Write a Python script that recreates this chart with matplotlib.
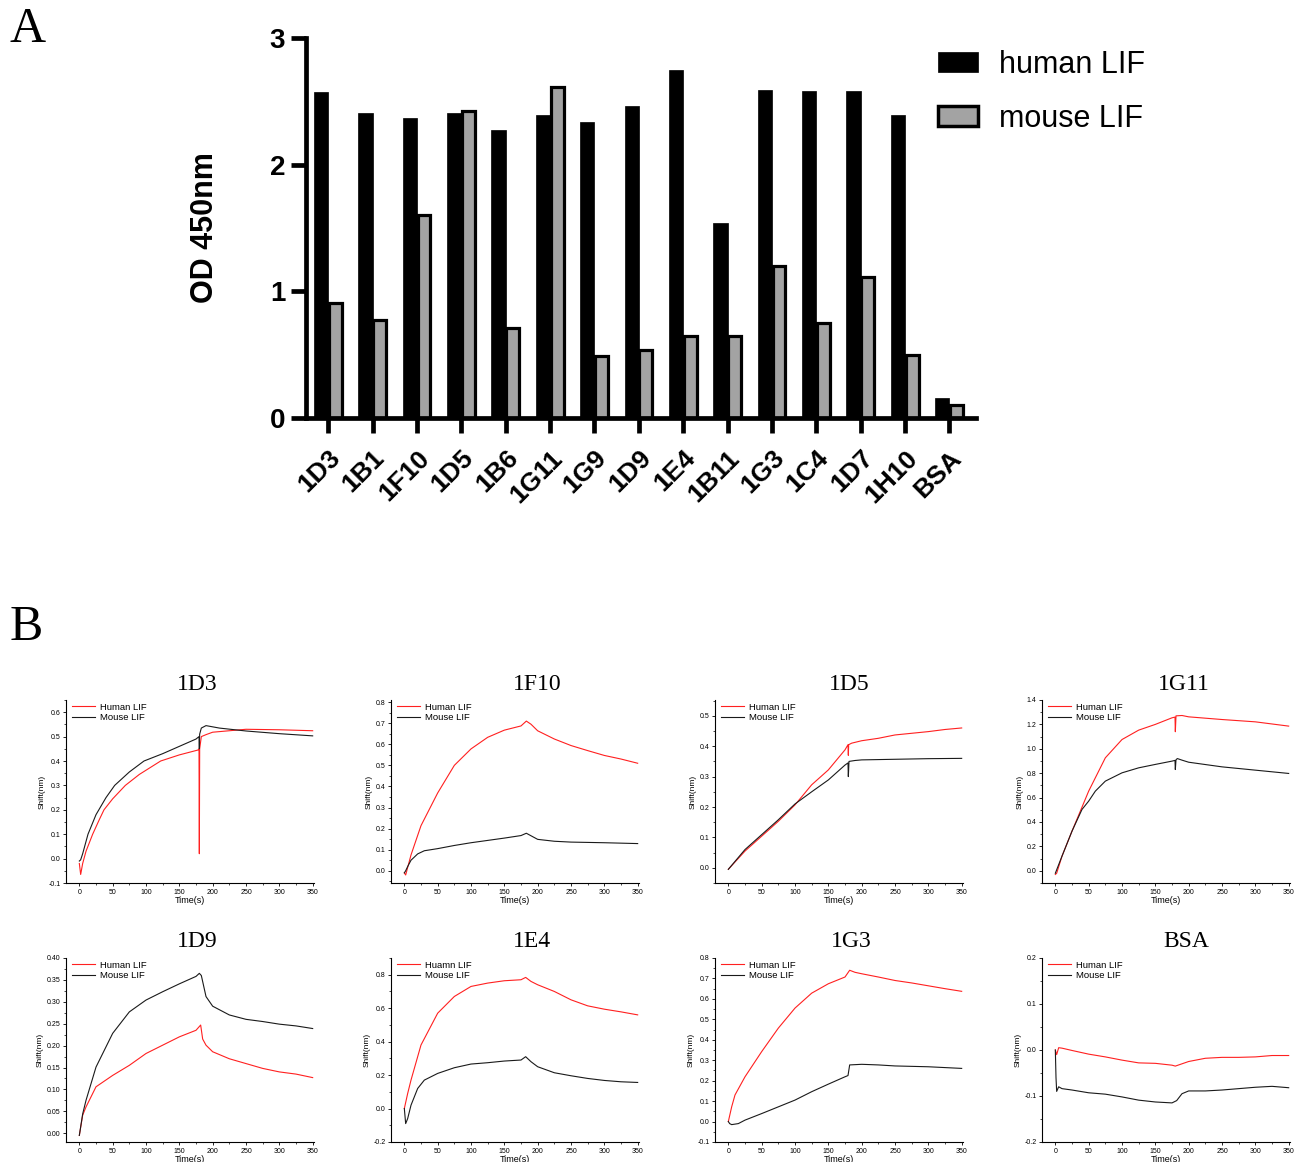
import matplotlib
matplotlib.use('Agg')
import matplotlib.pyplot as plt
from matplotlib.ticker import MultipleLocator, AutoMinorLocator, FormatStrFormatter
from matplotlib.patches import Patch
import numpy as np

plt.rcParams['axes.unicode_minus'] = False
plt.rcParams['font.family'] = ['Liberation Sans', 'DejaVu Sans']

# ---------------- Panel A data ----------------
clones = ['1D3', '1B1', '1F10', '1D5', '1B6', '1G11', '1G9', '1D9', '1E4', '1B11',
          '1G3', '1C4', '1D7', '1H10', 'BSA']
human_od = [2.57, 2.41, 2.37, 2.41, 2.27, 2.39, 2.34, 2.46, 2.75, 1.54,
            2.59, 2.58, 2.58, 2.39, 0.16]
mouse_od = [0.91, 0.77, 1.60, 2.42, 0.71, 2.61, 0.49, 0.54, 0.65, 0.65,
            1.20, 0.75, 1.11, 0.50, 0.10]
ab_legend = ['human LIF', 'mouse LIF']

# ---------------- Panel B data ----------------
t_1D3_h = [0, 2, 5, 10, 20, 30, 37, 50, 69, 90, 122, 150, 178, 179.5, 180, 180.5, 183, 190, 200, 225, 250, 300, 350]
v_1D3_h = [-0.02, -0.065, -0.02, 0.03, 0.10, 0.16, 0.20, 0.245, 0.30, 0.345, 0.40, 0.425, 0.445, 0.45, 0.02, 0.45, 0.50, 0.508, 0.518, 0.524, 0.53, 0.528, 0.524]
t_1D3_m = [0, 2, 5, 13, 25, 40, 53, 75, 97, 125, 150, 175, 179.5, 180, 180.5, 183, 190, 200, 210, 250, 300, 350]
v_1D3_m = [-0.01, -0.005, 0.02, 0.10, 0.18, 0.25, 0.30, 0.355, 0.40, 0.43, 0.46, 0.49, 0.50, 0.45, 0.51, 0.535, 0.545, 0.54, 0.535, 0.523, 0.512, 0.503]

t_1F10_h = [0, 2, 10, 25, 50, 75, 100, 125, 150, 175, 183, 190, 200, 225, 250, 275, 300, 325, 350]
v_1F10_h = [-0.01, -0.02, 0.075, 0.214, 0.369, 0.50, 0.578, 0.633, 0.667, 0.687, 0.71, 0.695, 0.664, 0.625, 0.594, 0.57, 0.547, 0.53, 0.51]
t_1F10_m = [0, 2, 5, 10, 20, 30, 50, 75, 100, 125, 150, 175, 183, 200, 225, 250, 300, 350]
v_1F10_m = [-0.01, 0.0, 0.02, 0.05, 0.08, 0.095, 0.105, 0.12, 0.133, 0.144, 0.155, 0.167, 0.178, 0.149, 0.14, 0.136, 0.133, 0.129]

t_1D5_h = [0, 25, 50, 75, 100, 125, 150, 175, 179.5, 180, 180.5, 185, 200, 225, 250, 300, 325, 350]
v_1D5_h = [-0.005, 0.055, 0.104, 0.153, 0.207, 0.273, 0.322, 0.388, 0.405, 0.37, 0.405, 0.41, 0.418, 0.426, 0.437, 0.448, 0.455, 0.46]
t_1D5_m = [0, 25, 50, 75, 100, 125, 150, 175, 179.5, 180, 181, 190, 200, 250, 300, 350]
v_1D5_m = [-0.005, 0.06, 0.109, 0.158, 0.21, 0.25, 0.289, 0.338, 0.345, 0.30, 0.35, 0.353, 0.355, 0.357, 0.359, 0.36]

t_1G11_h = [0, 2, 10, 25, 50, 75, 100, 125, 150, 175, 179.5, 180, 181, 190, 200, 250, 300, 350]
v_1G11_h = [-0.03, -0.02, 0.12, 0.325, 0.653, 0.926, 1.076, 1.153, 1.20, 1.254, 1.26, 1.14, 1.27, 1.273, 1.262, 1.24, 1.221, 1.186]
t_1G11_m = [0, 10, 25, 40, 50, 60, 75, 100, 125, 150, 175, 179.5, 180, 181, 183, 190, 200, 250, 300, 350]
v_1G11_m = [-0.02, 0.12, 0.325, 0.503, 0.571, 0.653, 0.735, 0.803, 0.844, 0.872, 0.899, 0.905, 0.83, 0.91, 0.92, 0.907, 0.89, 0.852, 0.825, 0.798]

t_1D9_h = [0, 5, 10, 25, 50, 75, 100, 125, 150, 175, 182, 185, 190, 200, 225, 250, 275, 300, 325, 350]
v_1D9_h = [-0.005, 0.041, 0.06, 0.106, 0.132, 0.155, 0.182, 0.201, 0.22, 0.235, 0.247, 0.215, 0.201, 0.186, 0.17, 0.159, 0.148, 0.14, 0.135, 0.127]
t_1D9_m = [0, 5, 10, 25, 50, 75, 100, 125, 150, 175, 180, 183, 190, 200, 225, 250, 275, 300, 325, 350]
v_1D9_m = [-0.005, 0.044, 0.075, 0.151, 0.228, 0.277, 0.304, 0.323, 0.341, 0.358, 0.365, 0.36, 0.312, 0.29, 0.27, 0.26, 0.255, 0.249, 0.245, 0.239]

t_1E4_h = [0, 5, 10, 25, 50, 75, 100, 125, 150, 175, 182, 190, 200, 225, 250, 275, 300, 325, 350]
v_1E4_h = [0.0, 0.09, 0.17, 0.38, 0.57, 0.67, 0.73, 0.75, 0.764, 0.77, 0.784, 0.76, 0.74, 0.70, 0.65, 0.614, 0.594, 0.578, 0.56]
t_1E4_m = [0, 2, 5, 10, 20, 30, 50, 75, 100, 125, 150, 175, 182, 190, 200, 225, 250, 275, 300, 325, 350]
v_1E4_m = [0.0, -0.09, -0.06, 0.02, 0.12, 0.17, 0.21, 0.244, 0.266, 0.274, 0.284, 0.29, 0.31, 0.28, 0.25, 0.214, 0.196, 0.18, 0.168, 0.16, 0.156]

t_1G3_h = [0, 5, 10, 25, 50, 75, 100, 125, 150, 175, 182, 190, 200, 225, 250, 275, 300, 325, 350]
v_1G3_h = [0.0, 0.072, 0.13, 0.219, 0.342, 0.457, 0.555, 0.628, 0.674, 0.707, 0.74, 0.73, 0.723, 0.707, 0.69, 0.678, 0.664, 0.65, 0.637]
t_1G3_m = [0, 2, 5, 15, 25, 50, 75, 100, 125, 150, 175, 179.5, 182, 200, 225, 250, 300, 350]
v_1G3_m = [0.0, -0.01, -0.015, -0.01, 0.007, 0.039, 0.072, 0.105, 0.146, 0.183, 0.219, 0.225, 0.277, 0.28, 0.277, 0.272, 0.268, 0.26]

t_BSA_h = [0, 2, 5, 10, 25, 50, 75, 100, 125, 150, 175, 180, 200, 225, 250, 275, 300, 325, 350]
v_BSA_h = [0.0, -0.01, 0.005, 0.004, -0.001, -0.009, -0.015, -0.022, -0.028, -0.029, -0.033, -0.035, -0.025, -0.018, -0.016, -0.016, -0.015, -0.012, -0.012]
t_BSA_m = [0, 1, 2, 5, 10, 25, 50, 75, 100, 125, 150, 175, 182, 190, 200, 225, 250, 275, 300, 325, 350]
v_BSA_m = [0.0, -0.06, -0.09, -0.08, -0.084, -0.087, -0.093, -0.096, -0.102, -0.109, -0.113, -0.115, -0.11, -0.095, -0.089, -0.089, -0.087, -0.084, -0.081, -0.079, -0.082]

panel_titles = ['1D3', '1F10', '1D5', '1G11', '1D9', '1E4', '1G3', 'BSA']
human_labels = ['Human LIF', 'Human LIF', 'Human LIF', 'Human LIF', 'Human LIF', 'Huamn LIF', 'Human LIF', 'Human LIF']
mouse_label = 'Mouse LIF'
x_ticks_B = [0, 50, 100, 150, 200, 250, 300, 350]

panels = [
    (t_1D3_h, v_1D3_h, t_1D3_m, v_1D3_m),
    (t_1F10_h, v_1F10_h, t_1F10_m, v_1F10_m),
    (t_1D5_h, v_1D5_h, t_1D5_m, v_1D5_m),
    (t_1G11_h, v_1G11_h, t_1G11_m, v_1G11_m),
    (t_1D9_h, v_1D9_h, t_1D9_m, v_1D9_m),
    (t_1E4_h, v_1E4_h, t_1E4_m, v_1E4_m),
    (t_1G3_h, v_1G3_h, t_1G3_m, v_1G3_m),
    (t_BSA_h, v_BSA_h, t_BSA_m, v_BSA_m),
]
# style: ylim, major step, format, title x
styles = [
    ((-0.1, 0.65), 0.1, '%.1f', 0.53),
    ((-0.058, 0.81), 0.1, '%.1f', 0.59),
    ((-0.05, 0.552), 0.1, '%.1f', 0.54),
    ((-0.1, 1.4), 0.2, '%.1f', 0.57),
    ((-0.02, 0.40), 0.05, '%.2f', 0.53),
    ((-0.2, 0.9), 0.2, '%.1f', 0.57),
    ((-0.1, 0.8), 0.1, '%.1f', 0.55),
    ((-0.2, 0.2), 0.1, '%.1f', 0.58),
]

W, H = 1303, 1162
fig = plt.figure(figsize=(W / 100, H / 100), dpi=100)

# ---------------- Panel A ----------------
axA = fig.add_axes([306 / W, 1 - 418 / H, (976 - 306) / W, (418 - 38) / H])
x = np.arange(len(clones))
axA.bar(x - 0.16, human_od, 0.32, color='black', edgecolor='black', linewidth=0.5, zorder=2)
axA.bar(x + 0.16, mouse_od, 0.29, color='#a3a3a3', edgecolor='black', linewidth=2.3, zorder=2)
axA.set_xlim(-0.5, 14.6)
axA.set_ylim(0, 3)
for s in ['top', 'right']:
    axA.spines[s].set_visible(False)
for s in ['left', 'bottom']:
    axA.spines[s].set_linewidth(3.4)
axA.set_yticks([0, 1, 2, 3])
axA.set_xticks(x)
axA.set_xticklabels(clones, rotation=45, ha='right', va='top', rotation_mode='anchor',
                    fontsize=19, fontweight='bold')
axA.tick_params(axis='both', width=3.4, length=11, direction='out')
axA.tick_params(axis='x', pad=9)
axA.tick_params(axis='y', labelsize=20, pad=4)
for lab in axA.get_yticklabels():
    lab.set_fontweight('bold')
axA.set_ylabel('OD 450nm', fontsize=22, fontweight='bold', labelpad=36)

handles = [Patch(facecolor='black', edgecolor='black', linewidth=0.5),
           Patch(facecolor='#a3a3a3', edgecolor='black', linewidth=2.5)]
fig.legend(handles, ab_legend, loc='upper left', bbox_to_anchor=(938 / W, 1 - 50 / H),
           frameon=False, fontsize=22, handlelength=1.3, handleheight=0.65,
           handletextpad=0.7, labelspacing=0.78, borderpad=0, borderaxespad=0)

fig.text(10 / W, 1 - 6 / H, 'A', fontsize=36, family='Liberation Serif', va='top', ha='left')
fig.text(10 / W, 1 - 604 / H, 'B', fontsize=36, family='Liberation Serif', va='top', ha='left')

# ---------------- Panel B ----------------
lefts = [66, 391, 715, 1042]
rows = [(700, 883), (958, 1142)]
for i, (th, vh, tm, vm) in enumerate(panels):
    r, c = divmod(i, 4)
    top, bot = rows[r]
    ax = fig.add_axes([lefts[c] / W, 1 - bot / H, 248 / W, (bot - top) / H])
    (ylim, step, fmt, tx) = styles[i]
    ax.plot(th, vh, color='#ff2020', lw=0.8, label=human_labels[i])
    ax.plot(tm, vm, color='#1a1a1a', lw=0.8, label=mouse_label)
    ax.set_xlim(-20, 352)
    ax.set_ylim(*ylim)
    ax.set_xticks(x_ticks_B)
    ax.xaxis.set_minor_locator(AutoMinorLocator(2))
    ax.yaxis.set_major_locator(MultipleLocator(step))
    ax.yaxis.set_minor_locator(AutoMinorLocator(2))
    ax.yaxis.set_major_formatter(FormatStrFormatter(fmt))
    for s in ['top', 'right']:
        ax.spines[s].set_visible(False)
    for s in ['left', 'bottom']:
        ax.spines[s].set_linewidth(0.8)
    ax.tick_params(which='major', length=2.5, width=0.6, labelsize=5, pad=1.5)
    ax.tick_params(which='minor', length=1.5, width=0.5)
    ax.set_xlabel('Time(s)', fontsize=6.5, labelpad=0)
    ax.set_ylabel('Shift(nm)', fontsize=6, labelpad=2)
    ax.text(tx, 1.03, panel_titles[i], transform=ax.transAxes, ha='center', va='bottom',
            fontsize=17, family='Liberation Serif')
    ax.legend(loc='upper left', bbox_to_anchor=(0.025, 0.985), frameon=False, fontsize=6.8,
              handlelength=2.4, handletextpad=0.5, labelspacing=0.12, borderpad=0, borderaxespad=0)

fig.savefig('out.png', dpi=100)
